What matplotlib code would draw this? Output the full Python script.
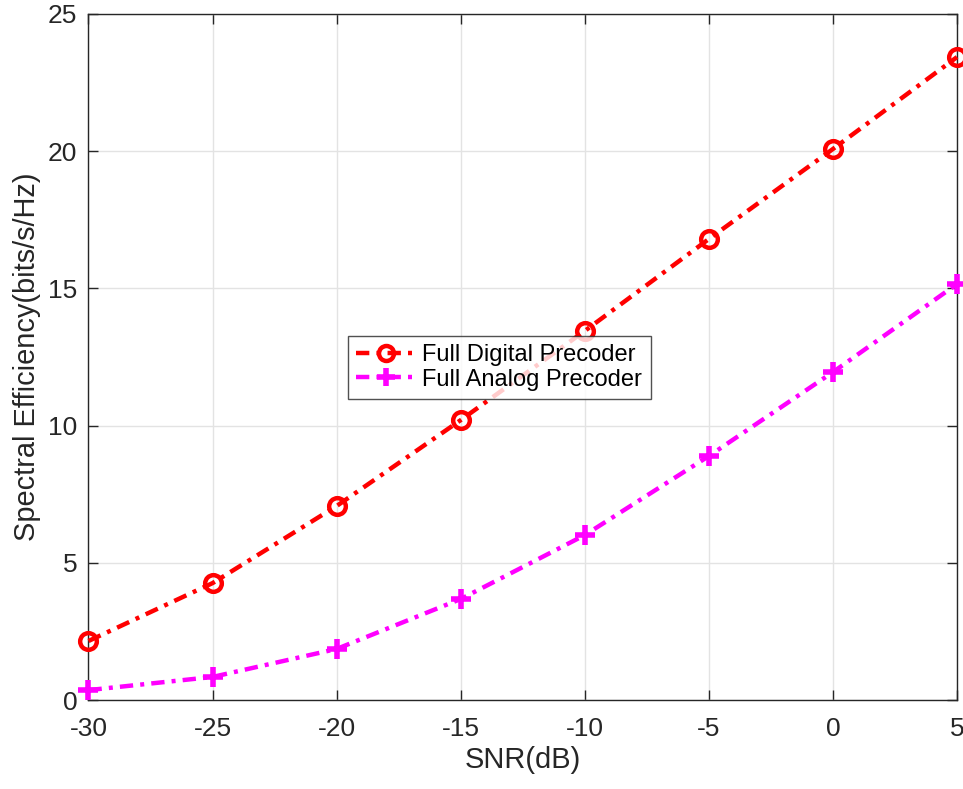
import matplotlib
matplotlib.use("Agg")
import matplotlib.pyplot as plt

# ---- data ----
snr = [-30, -25, -20, -15, -10, -5, 0, 5]
digital = [2.15, 4.26, 7.07, 10.2, 13.45, 16.8, 20.08, 23.43]
analog = [0.36, 0.84, 1.86, 3.68, 6.01, 8.89, 11.95, 15.16]
xticks = [-30, -25, -20, -15, -10, -5, 0, 5]
yticks = [0, 5, 10, 15, 20, 25]

plt.rcParams['font.family'] = ['Liberation Sans', 'DejaVu Sans']
plt.rcParams['axes.unicode_minus'] = False

fig = plt.figure(figsize=(9.63, 7.89), dpi=100)
ax = fig.add_axes([0.0919, 0.1128, 0.9019, 0.8695])

dash = (0, (3.0, 1.6, 0.9, 1.6))
ax.plot(snr, digital, color='red', lw=3.2, linestyle=dash, marker='o',
        ms=12, mew=3.2, mfc='none', label='Full Digital Precoder', clip_on=False, zorder=3)
ax.plot(snr, analog, color='magenta', lw=3.2, linestyle=dash, marker='+',
        ms=14, mew=4, label='Full Analog Precoder', clip_on=False, zorder=3)

ax.set_xlim(-30, 5)
ax.set_ylim(0, 25)
ax.set_xticks(xticks)
ax.set_yticks(yticks)
ax.tick_params(direction='in', length=7, width=1, labelsize=19, colors='#262626',
               top=True, right=True)
ax.tick_params(axis='x', pad=12)
ax.tick_params(axis='y', pad=8)
ax.grid(True, color='#e3e3e3', lw=1)
ax.set_axisbelow(True)
for s in ax.spines.values():
    s.set_color('#262626')
    s.set_linewidth(1)

ax.set_xlabel('SNR(dB)', fontsize=20.9, color='#262626', labelpad=4)
ax.set_ylabel('Spectral Efficiency(bits/s/Hz)', fontsize=20.9, color='#262626', labelpad=5)

leg = ax.legend(loc='upper left', bbox_to_anchor=(0.3614, 0.5741), bbox_transform=fig.transFigure,
                fontsize=17, frameon=True, fancybox=False, edgecolor='#262626',
                handlelength=2.5, borderpad=0.35, labelspacing=0.1, handletextpad=0.3,
                borderaxespad=0, markerscale=0.9)
leg.get_frame().set_linewidth(1)

fig.savefig('out.png', dpi=100)
